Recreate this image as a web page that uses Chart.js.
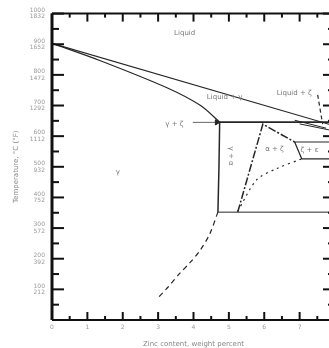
<!DOCTYPE html>
<html>
<head>
<meta charset="utf-8">
<script src="https://cdn.jsdelivr.net/npm/chart.js@4.4.1/dist/chart.umd.min.js"></script>
<style>
  html, body { margin: 0; padding: 0; background: #fff; overflow: hidden; }
  #wrap { position: relative; width: 345px; height: 348px; }
</style>
</head>
<body>
<div id="wrap"><canvas id="phaseChart"></canvas></div>
<script>
// axis ranges (composition, temperature)
const xTicks = [0, 1, 2, 3, 4, 5, 6, 7, 8];
const yTicks = [0, 100, 200, 300, 400, 500, 600, 700, 800, 900, 1000];

// phase boundaries
const liquidusX = [0, 8];
const liquidusY = [903, 633];
const solidusX = [0, 1.35, 3.25, 4.2, 4.74];
const solidusY = [903, 847, 758, 700, 646];
const eutecticX = [4.74, 8];
const eutecticY = [646, 646];
const solvusX = [4.74, 4.72, 4.69];
const solvusY = [646, 500, 352];
const lowSolvusX = [4.69, 4.46, 4.18, 3.9, 3.61, 3.27, 2.96];
const lowSolvusY = [352, 281, 226, 187, 152, 106, 68];
const eutectoidX = [4.69, 8];
const eutectoidY = [352, 352];
const diagX = [5.25, 5.96, 6.86];
const diagY = [352, 639, 581];
const boxX = [8, 6.86, 7.06, 8];
const boxY = [581, 581, 526, 526];
const dottedX = [5.25, 5.79, 6.35, 7.06];
const dottedY = [355, 458, 494, 526];
const dashVertX = [7.51, 7.65];
const dashVertY = [735, 639];
const fanAX = [6.86, 7.75];
const fanAY = [652, 626];
const fanBX = [7.0, 7.85];
const fanBY = [640, 620];
const pointerX = [3.98, 4.66];
const pointerY = [645, 645];

// region labels
const labelText = ["Liquid", "Liquid + γ", "Liquid + ζ", "γ + ζ", "γ", "α + ζ", "ζ + ε"];
const labelX = [3.75, 4.88, 6.35, 3.72, 1.86, 6.29, 7.28];
const labelY = [935, 726, 739, 639, 484, 558, 555];
const vertLabel = "γ + α";
const vertLabelX = 5.05;
const vertLabelY = 535;

function pts(xs, ys) {
    return xs.map((x, i) => ({ x: x, y: ys[i] }));
}

function line(xs, ys, dash, width, curved) {
    return {
        data: pts(xs, ys),
        showLine: true,
        borderColor: "#262626",
        borderWidth: width || 1.2,
        borderDash: dash || [],
        pointRadius: 0,
        fill: false,
        tension: curved ? 0.3 : 0
    };
}

const pointer = line(pointerX, pointerY, [], 1);
pointer.borderColor = "#666";
pointer.pointRadius = [0, 3];
pointer.pointStyle = "triangle";
pointer.rotation = 90;
pointer.pointBackgroundColor = "#222";
pointer.pointBorderColor = "#222";

const datasets = [
    line(liquidusX, liquidusY),
    line(solidusX, solidusY, [], 1.2, true),
    line(eutecticX, eutecticY, [], 1.8),
    line(solvusX, solvusY, [], 1.5),
    line(lowSolvusX, lowSolvusY, [5, 4], 1.2, true),
    line(eutectoidX, eutectoidY, [], 1),
    line(diagX, diagY, [8, 2, 2, 2], 1.5),
    line(boxX, boxY),
    line(dottedX, dottedY, [2, 4], 1.2, true),
    line(dashVertX, dashVertY, [4, 3]),
    line(fanAX, fanAY, [], 1),
    line(fanBX, fanBY, [], 1),
    pointer
];

// inward ticks, frame and region labels
const framePlugin = {
    id: "frame",
    afterDraw(chart) {
        const c = chart.ctx;
        const a = chart.chartArea;
        const xs = chart.scales.x;
        const ys = chart.scales.y;
        c.save();
        c.strokeStyle = "#111";
        // frame
        c.lineWidth = 3;
        c.beginPath(); c.moveTo(a.left, a.top); c.lineTo(a.left, a.bottom); c.stroke();
        c.lineWidth = 2;
        c.beginPath(); c.moveTo(a.left, a.bottom); c.lineTo(a.right, a.bottom); c.stroke();
        c.beginPath(); c.moveTo(a.left, a.top); c.lineTo(a.right, a.top); c.stroke();
        c.beginPath(); c.moveTo(a.right, a.top); c.lineTo(a.right, a.bottom); c.stroke();
        // x ticks top and bottom
        for (let v = 0; v <= 8; v += 0.5) {
            const px = xs.getPixelForValue(v);
            const len = Number.isInteger(v) ? 8 : 4;
            c.beginPath(); c.moveTo(px, a.bottom); c.lineTo(px, a.bottom - len); c.stroke();
            c.beginPath(); c.moveTo(px, a.top); c.lineTo(px, a.top + len); c.stroke();
        }
        // y ticks left and right
        for (let v = 0; v <= 1000; v += 50) {
            const py = ys.getPixelForValue(v);
            const major = v % 100 === 0;
            c.beginPath(); c.moveTo(a.left, py); c.lineTo(a.left + (major ? 12 : 7), py); c.stroke();
            c.beginPath(); c.moveTo(a.right, py); c.lineTo(a.right - (major ? 12 : 7), py); c.stroke();
        }
        // labels
        c.fillStyle = "#777";
        c.font = "7px 'DejaVu Sans'";
        c.textBaseline = "middle";
        labelText.forEach((t, i) => {
            c.textAlign = t === "γ + ζ" ? "right" : (t === "Liquid + ζ" ? "left" : "center");
            c.fillText(t, xs.getPixelForValue(labelX[i]), ys.getPixelForValue(labelY[i]));
        });
        c.translate(xs.getPixelForValue(vertLabelX), ys.getPixelForValue(vertLabelY));
        c.rotate(Math.PI / 2);
        c.textAlign = "center";
        c.fillText(vertLabel, 0, 0);
        c.restore();
    }
};

new Chart(document.getElementById("phaseChart"), {
    type: "scatter",
    data: { datasets: datasets },
    options: {
        responsive: true,
        maintainAspectRatio: false,
        animation: false,
        layout: { padding: { top: 10, right: 10, left: 0, bottom: 0 } },
        plugins: { legend: { display: false }, tooltip: { enabled: false } },
        scales: {
            x: {
                type: "linear",
                min: xTicks[0],
                max: xTicks[xTicks.length - 1],
                afterFit: s => { s.height = 28; },
                grid: { display: false, drawTicks: false },
                border: { display: false },
                ticks: {
                    stepSize: 1,
                    padding: 4,
                    color: "#999",
                    font: { size: 6, family: "DejaVu Sans" }
                },
                title: {
                    display: true,
                    text: "Zinc content, weight percent",
                    color: "#888",
                    padding: { top: 2, bottom: 0 },
                    font: { size: 7, family: "DejaVu Sans" }
                }
            },
            y: {
                type: "linear",
                min: yTicks[0],
                max: yTicks[yTicks.length - 1],
                afterFit: s => { s.width = 52; },
                grid: { display: false, drawTicks: false },
                border: { display: false },
                ticks: {
                    stepSize: 100,
                    padding: 7,
                    color: "#999",
                    font: { size: 6, family: "DejaVu Sans", lineHeight: 1.1 },
                    callback: v => v === 0 ? "" : [String(v), String(Math.round(v * 9 / 5 + 32))]
                },
                title: {
                    display: true,
                    text: "Temperature, °C (°F)",
                    color: "#888",
                    padding: { top: 12, bottom: 6 },
                    font: { size: 7, family: "DejaVu Sans" }
                }
            }
        }
    },
    plugins: [framePlugin]
});
</script>
</body>
</html>
